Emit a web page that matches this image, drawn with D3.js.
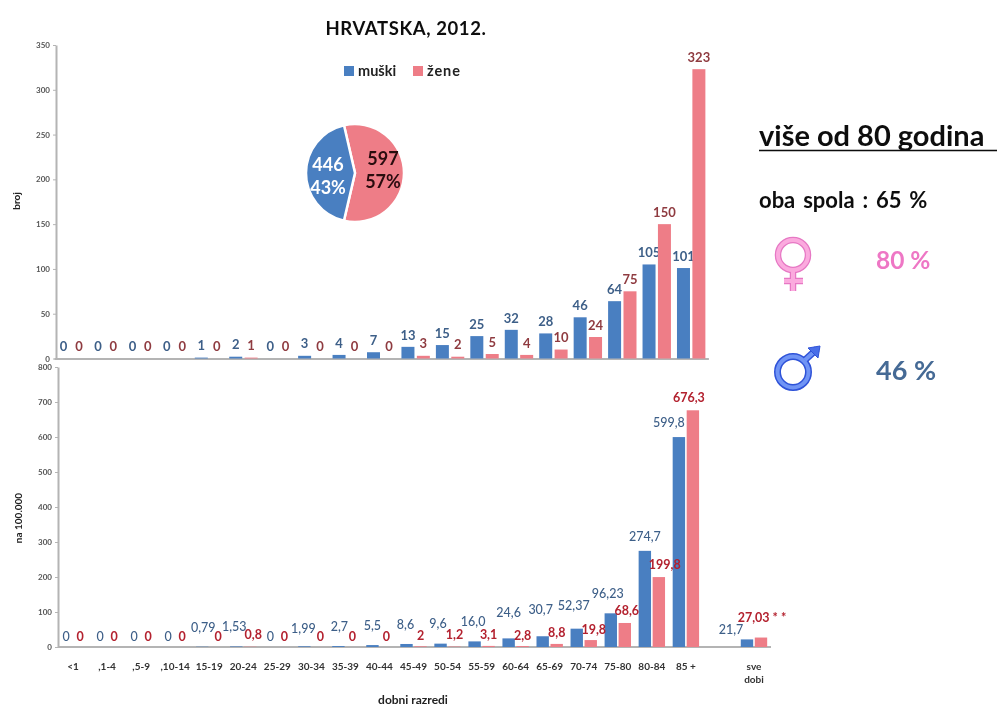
<!DOCTYPE html>
<html><head><meta charset="utf-8">
<script src="https://cdn.jsdelivr.net/npm/d3@7"></script>
<style>html,body{margin:0;background:#fff}svg{display:block}text{font-family:Lato,"Open Sans",sans-serif}</style>
</head><body><svg id="c" width="997" height="707"></svg>
<script>
const ages = ["<1",",1-4",",5-9",",10-14","15-19","20-24","25-29","30-34","35-39","40-44","45-49","50-54","55-59","60-64","65-69","70-74","75-80","80-84","85 +"];
const countMale = [0,0,0,0,1,2,0,3,4,7,13,15,25,32,28,46,64,105,101];
const countFemale = [0,0,0,0,0,1,0,0,0,0,3,2,5,4,10,24,75,150,323];
const rateMale = [0,0,0,0,0.79,1.53,0,1.99,2.7,5.5,8.6,9.6,16.0,24.6,30.7,52.37,96.23,274.7,599.8,21.7];
const rateFemale = [0,0,0,0,0,0.8,0,0,0,0,2,1.2,3.1,2.8,8.8,19.8,68.6,199.8,676.3,27.03];
const rateMaleText = ["0","0","0","0","0,79","1,53","0","1,99","2,7","5,5","8,6","9,6","16,0","24,6","30,7","52,37","96,23","274,7","599,8","21,7"];
const rateFemaleText = ["0","0","0","0","0","0,8","0","0","0","0","2","1,2","3,1","2,8","8,8","19,8","68,6","199,8","676,3","27,03 * *"];
const totalLabel = "sve dobi";
const pieValues = [597,446];
const pieNames = ["žene","muški"];
const piePct = ["57%","43%"];
const countTicks = [0,50,100,150,200,250,300,350];
const rateTicks = [0,100,200,300,400,500,600,700,800];

// label placement (offset from bar centre / bar top), separate from the data
const maleNudge = [[0,-11],[0,-11],[0,-11],[0,-11],[1,-19],[-2,-20],[0,-11],[-1,-18],[1,-20],[0,-20],[-1,-19],[-2.5,-20.5],[-1.5,-20],[0,-26],[-2,-27],[-3,-23],[-3,-20],[0,-14],[-10,-15],[-16,-9.5]];
const femaleNudge = [[0,-11],[0,-11],[0,-11],[0,-11],[2,-11],[3,-12],[0,-11],[2,-11],[0,-11],[0,-11],[0,-11],[0,-12],[0,-11],[0,-11],[0,-11],[3,-11],[2,-12],[6,-13],[-4,-13],[1,-20]];

const BLUE="#4a7fc1", PINK="#ee7d87", MTXT="#3d5f88", FTXT="#8f3b40", FTXT2="#b3202e", GREY="#b4b4b4";
const svg = d3.select("#c");
const defs = svg.append("defs");
defs.append("filter").attr("id","soft").attr("filterUnits","userSpaceOnUse").attr("x",0).attr("y",0).attr("width",997).attr("height",707)
  .append("feGaussianBlur").attr("stdDeviation",0.45);
const root = svg.append("g").attr("filter","url(#soft)");

function styleAxis(g){
  g.selectAll("path").attr("stroke",GREY).attr("stroke-width",2);
  g.selectAll("line").attr("stroke",GREY);
  g.selectAll("text").attr("fill","#555").attr("font-size",8).attr("font-weight",700);
}

// ---------- top panel
const xTop = d3.scaleBand().domain(ages).range([54,708.4]);
const yTop = d3.scaleLinear().domain([0,350]).range([358.5,45]);
const topG = root.append("g");
topG.append("g").attr("transform","translate(56,0)")
  .call(d3.axisLeft(yTop).tickValues(countTicks).tickSize(3).tickSizeOuter(0)).call(styleAxis);
topG.append("g").attr("transform","translate(0,358.5)")
  .call(d3.axisBottom(xTop).tickValues([]).tickSizeOuter(0)).call(styleAxis);
function topBars(vals,col,dx,txt){
  const c=i=>xTop(ages[i])+xTop.bandwidth()/2+dx;
  topG.append("g").selectAll("rect").data(vals).join("rect")
    .attr("x",(d,i)=>c(i)-6.5).attr("width",13)
    .attr("y",d=>yTop(d)).attr("height",d=>yTop(0)-yTop(d)).attr("fill",col);
  topG.append("g").selectAll("text").data(vals).join("text")
    .attr("x",(d,i)=>c(i)).attr("y",d=>yTop(d)-12).attr("dy","0.36em")
    .attr("text-anchor","middle").attr("font-size",13).attr("font-weight",700)
    .attr("fill",txt).text(d=>d);
}
topBars(countMale,BLUE,-7.7,MTXT);
topBars(countFemale,PINK,7.7,FTXT);

// ---------- bottom panel
const bandsLow = ages.concat([" ",totalLabel]);
const xLow = d3.scaleBand().domain(bandsLow).range([56,771]);
const yLow = d3.scaleLinear().domain([0,800]).range([647,367]);
const low = root.append("g");
low.append("g").attr("transform","translate(58,0)")
  .call(d3.axisLeft(yLow).tickValues(rateTicks).tickSize(3).tickSizeOuter(0)).call(styleAxis);
const lowAxis = low.append("g").attr("transform","translate(0,647)")
  .call(d3.axisBottom(xLow).tickSize(0).tickPadding(16).tickSizeOuter(0)).call(styleAxis);
lowAxis.select("path").attr("d","M58,0H771");
lowAxis.selectAll("text").attr("font-size",10).attr("fill","#333");
lowAxis.selectAll(".tick").filter(d=>d===totalLabel).select("text").each(function(){
  const t=d3.select(this); t.text(null);
  t.append("tspan").attr("x",0).text("sve");
  t.append("tspan").attr("x",0).attr("dy",13).text("dobi");
});
const lowCat = i => i<19 ? ages[i] : totalLabel;
function lowBars(vals,col,dx,txt,strs,nudge,weight){
  const c=i=>xLow(lowCat(i))+xLow.bandwidth()/2+dx;
  low.append("g").selectAll("rect").data(vals).join("rect")
    .attr("x",(d,i)=>c(i)-6.2).attr("width",12.4)
    .attr("y",d=>yLow(d)).attr("height",d=>yLow(0)-yLow(d)).attr("fill",col);
  low.append("g").selectAll("text").data(vals).join("text")
    .attr("x",(d,i)=>c(i)+nudge[i][0]).attr("y",(d,i)=>yLow(d)+nudge[i][1]).attr("dy","0.36em")
    .attr("text-anchor","middle").attr("font-size",12.5).attr("font-weight",weight)
    .attr("fill",txt).text((d,i)=>strs[i]);
}
lowBars(rateMale,BLUE,-7,MTXT,rateMaleText,maleNudge,500);
lowBars(rateFemale,PINK,7,FTXT2,rateFemaleText,femaleNudge,700);

// ---------- pie
const pieG = root.append("g").attr("transform","translate(355,173)");
const arcs = d3.pie().sort(null).startAngle(-13*Math.PI/180).endAngle(347*Math.PI/180)(pieValues);
const arc = d3.arc().innerRadius(0).outerRadius(49);
pieG.selectAll("path").data(arcs).join("path").attr("d",arc)
  .attr("fill",(d,i)=>i?BLUE:PINK).attr("stroke","#fff").attr("stroke-width",2.5);
[[28,-14,pieValues[0],"#2a0a10"],[28,9,piePct[0],"#2a0a10"],[-27,-8,pieValues[1],"#fff"],[-27,15,piePct[1],"#fff"]]
 .forEach(([x,y,s,f])=>pieG.append("text").attr("x",x).attr("y",y).attr("dy","0.36em")
   .attr("text-anchor","middle").attr("font-size",18).attr("font-weight",700).attr("fill",f).text(s));

// ---------- texts
function label(x,y,s,size,fill,anchor="start",weight=700,rot){
  const t=root.append("text").attr("x",x).attr("y",y).attr("font-size",size).attr("font-weight",weight)
    .attr("fill",fill).attr("text-anchor",anchor).text(s);
  if(rot) t.attr("transform",`rotate(${rot} ${x} ${y})`);
  return t;
}
label(406,35,"HRVATSKA, 2012.",18.5,"#111","middle",700).attr("letter-spacing",0.6);
root.append("rect").attr("x",344).attr("y",66).attr("width",10).attr("height",10).attr("fill",BLUE);
label(358,76,pieNames[1],14.5,"#222");
root.append("rect").attr("x",413).attr("y",66).attr("width",10).attr("height",10).attr("fill",PINK);
label(427,76,pieNames[0],14.5,"#222").attr("letter-spacing",0.9);
label(20,201,"broj",10,"#222","middle",700,-90);
label(22,518,"na 100.000",10,"#222","middle",700,-90);
label(413,703.5,"dobni razredi",12,"#222","middle",700);

label(759,146,"više od 80 godina",29,"#111");
root.append("line").attr("x1",759).attr("x2",997).attr("y1",150.5).attr("y2",150.5).attr("stroke","#111").attr("stroke-width",1.5);
label(759,208,"oba spola : 65 %",22,"#111").attr("word-spacing",2.5);
label(876,269,"80 %",24.5,"#ee77c5");
label(876,380,"46 %",27,"#456a95");

// ---------- gender symbols
const sym = root.append("g").attr("fill","none");
[["#e678c4",6.5],["#fbaade",4]].forEach(([c,w])=>{
  sym.append("circle").attr("cx",793).attr("cy",255).attr("r",15).attr("stroke",c).attr("stroke-width",w);
  sym.append("path").attr("d","M793,271V291M784,281H803").attr("stroke",c).attr("stroke-width",w);
});
[["#2f52d8",7],["#6f94f5",4]].forEach(([c,w])=>{
  sym.append("circle").attr("cx",793).attr("cy",372).attr("r",15.5).attr("stroke",c).attr("stroke-width",w);
  sym.append("path").attr("d","M805,360L817,349").attr("stroke",c).attr("stroke-width",w);
});
sym.append("path").attr("d","M808,348L820,346L818,358Z").attr("fill","#4a6ee8").attr("stroke","#2f52d8");
</script></body></html>
